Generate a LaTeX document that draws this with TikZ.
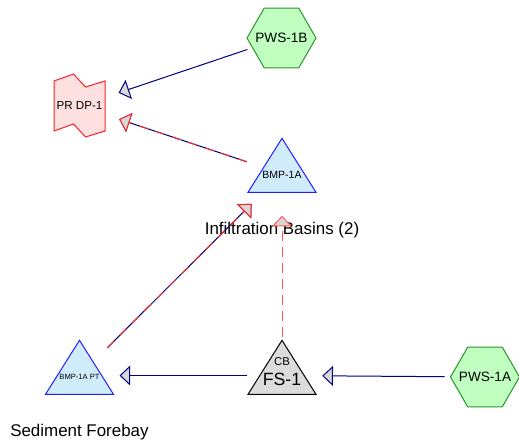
\documentclass[tikz,border=0pt]{standalone}
\usepackage{fontspec}
\setmainfont{Liberation Sans}
\usetikzlibrary{shapes.geometric,arrows.meta,positioning}

\definecolor{pwsfill}{RGB}{192,255,192}
\definecolor{pwsline}{RGB}{40,150,40}
\definecolor{prfill}{RGB}{255,224,224}
\definecolor{prline}{RGB}{255,32,32}
\definecolor{bmpfill}{RGB}{208,236,250}
\definecolor{bmpline}{RGB}{32,32,255}
\definecolor{cbfill}{RGB}{220,220,220}
\definecolor{tipfill}{RGB}{216,216,216}
\definecolor{flowline}{RGB}{0,0,128}
\definecolor{flowred}{RGB}{255,40,40}
\definecolor{flowpink}{RGB}{255,90,90}

\tikzset{
  hexnode/.style={regular polygon, regular polygon sides=6, minimum size=51.75pt,
    inner sep=0pt, draw=pwsline, fill=pwsfill, line width=0.75pt,
    label={[font=\fontsize{10.2}{12}\selectfont, inner sep=0pt]center:#1}},
  trinode/.style={isosceles triangle, isosceles triangle stretches,
    shape border rotate=90, minimum width=51pt, minimum height=40.5pt,
    inner sep=0pt, line width=0.75pt},
  captext/.style={font=\fontsize{12.7}{15}\selectfont, inner sep=0pt},
  flowtip/.style={-{Triangle[length=8pt, width=15pt, fill=tipfill]}},
  flow/.style={flowtip, draw=flowline, line width=0.75pt},
  redflow/.style={flowtip, draw=flowred, line width=0.75pt, dash pattern=on 7pt off 6pt},
  pinkflow/.style={flowtip, draw=flowpink, line width=0.75pt, dash pattern=on 7.5pt off 4.5pt},
}

\begin{document}
\begin{tikzpicture}[x=0.75pt, y=-0.75pt]
  \useasboundingbox (0,0) rectangle (519,445);

  % sources
  \node[hexnode=PWS-1B] (pwsB) at (281.5,38) {};
  \node[hexnode=PWS-1A] (pwsA) at (485,377) {};

  % design point
  \begin{scope}[shift={(79.5,106)}]
    \filldraw[draw=prline, fill=prfill, line width=0.75pt]
      (-25.5,-25) -- (-6,-32) -- (6,-19) -- (25.5,-25) -- (25.5,25)
      -- (6,31) -- (-6,18) -- (-25.5,25) -- cycle;
  \end{scope}
  \node[minimum width=38.25pt, minimum height=37.5pt, inner sep=0pt,
    font=\fontsize{8.7}{10}\selectfont] (prdp) at (79.5,106) {PR DP-1};

  % ponds
  \node[trinode, draw=bmpline, fill=bmpfill, anchor=apex] (bmpA) at (282,137) {};
  \node[font=\fontsize{7.9}{9}\selectfont, inner sep=0pt] (bmpAtxt) at (282,175) {BMP-1A};
  \node[captext] (bmpAcap) at (282,230) {Infiltration Basins (2)};

  \node[trinode, draw=bmpline, fill=bmpfill, anchor=apex] (bmpPT) at (79.5,339) {};
  \node[font=\fontsize{5.7}{7}\selectfont, inner sep=0pt] (bmpPTtxt) at (79.5,377) {BMP-1A PT};
  \node[captext, anchor=west] (bmpPTcap) at (10,432) {Sediment Forebay};

  \node[trinode, draw=black, fill=cbfill, anchor=apex] (fs1) at (282,339) {};
  \node[font=\fontsize{8.5}{10}\selectfont, inner sep=0pt] (fs1top) at (282,362) {CB};
  \node[font=\fontsize{13.3}{15}\selectfont, inner sep=0pt] (fs1txt) at (282,379) {FS-1};

  % routing
  \draw[flow, shorten <=3.75pt, shorten >=10.6pt] (pwsB) -- (prdp);
  \draw[flow, shorten <=13pt, shorten >=11pt] (bmpA) -- (prdp);
  \draw[redflow, shorten <=13pt, shorten >=11pt] (bmpA) -- (prdp);
  \draw[flow, shorten <=14.8pt, shorten >=11.7pt] (bmpPT) -- (bmpA);
  \draw[redflow, shorten <=14.8pt, shorten >=11.7pt] (bmpPT) -- (bmpA);
  \draw[pinkflow, shorten <=1.5pt, shorten >=17.25pt] (fs1) -- (bmpA);
  \draw[flow, shorten <=9.2pt, shorten >=12.9pt] (fs1) -- (bmpPT);
  \draw[flow, shorten <=4pt, shorten >=13pt] (pwsA) -- (fs1);
\end{tikzpicture}
\end{document}
